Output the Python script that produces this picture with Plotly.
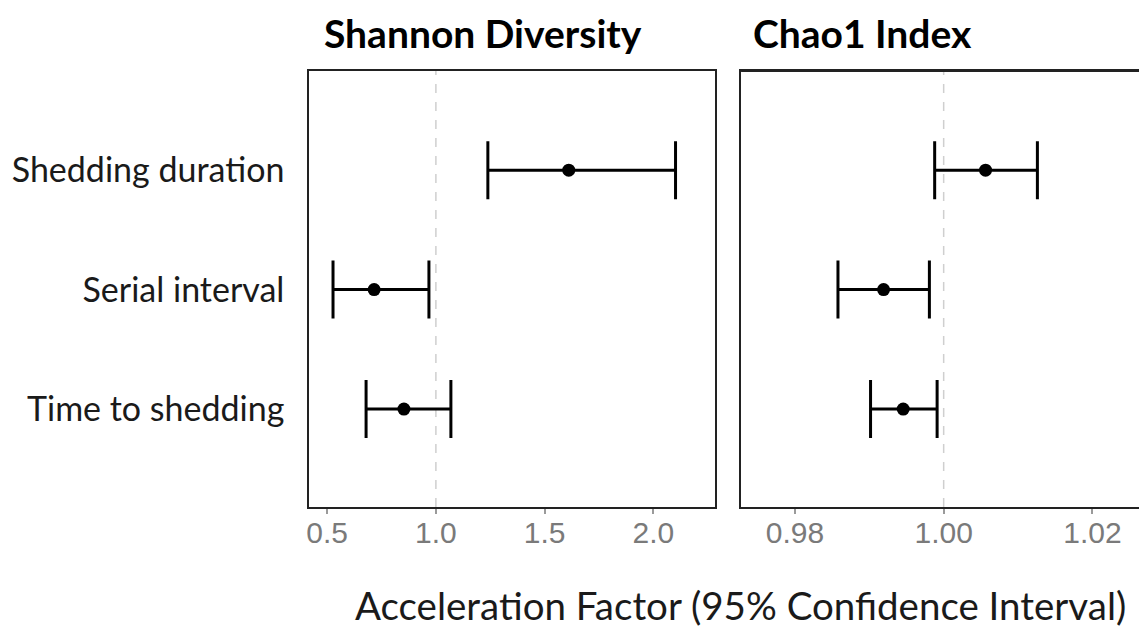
import plotly.graph_objects as go

categories = ["Time to shedding", "Serial interval", "Shedding duration"]
cat_pos = [1, 2, 3]

shannon_est = [0.853, 0.716, 1.611]
shannon_lo = [0.679, 0.527, 1.239]
shannon_hi = [1.069, 0.968, 2.102]

chao_est = [0.99456, 0.99192, 1.00563]
chao_lo = [0.99017, 0.98579, 0.99879]
chao_hi = [0.99912, 0.99808, 1.0126]

x1_ticks = [0.5, 1.0, 1.5, 2.0]
x2_ticks = [0.98, 1.00, 1.02]

W, H = 1139, 627
fig = go.Figure()

def add_series(est, lo, hi, xa, ya):
    fig.add_trace(go.Scatter(
        x=est, y=cat_pos, xaxis=xa, yaxis=ya, mode="markers",
        marker=dict(color="black", size=13),
        error_x=dict(type="data", symmetric=False,
                     array=[h - e for h, e in zip(hi, est)],
                     arrayminus=[e - l for e, l in zip(est, lo)],
                     color="black", thickness=3, width=29),
        showlegend=False, hoverinfo="skip"))

add_series(shannon_est, shannon_lo, shannon_hi, "x", "y")
add_series(chao_est, chao_lo, chao_hi, "x2", "y2")

for xr, yr in (("x", "y"), ("x2", "y2")):
    fig.add_shape(type="line", x0=1, x1=1, y0=0, y1=1, xref=xr, yref=yr + " domain",
                  line=dict(color="#cfcfcf", width=1.5, dash="dash"), layer="below")

ydom = [1 - 507 / H, 1 - 71 / H]
tickfont = dict(family="Liberation Sans, Arial", size=30, color="#7a7a7a")
common_x = dict(showgrid=False, zeroline=False, showline=True, linecolor="#222",
                linewidth=2, mirror=True, ticks="outside", ticklen=5, tickwidth=1.5,
                tickcolor="#9a9a9a", tickfont=tickfont, ticklabelstandoff=-7)
fig.update_layout(
    width=W, height=H, margin=dict(l=0, r=0, t=0, b=0),
    plot_bgcolor="white", paper_bgcolor="white",
    xaxis=dict(domain=[307 / W, 714 / W], range=[0.4174, 2.284],
               tickvals=x1_ticks, ticktext=[f"{v:.1f}" for v in x1_ticks], **common_x),
    xaxis2=dict(domain=[740 / W, 1.0], range=[0.97276, 1.02626], anchor="y2",
                tickvals=x2_ticks, ticktext=[f"{v:.2f}" for v in x2_ticks], **common_x),
    yaxis=dict(domain=ydom, range=[0.18, 3.83], tickvals=cat_pos, ticktext=categories,
               showgrid=False, zeroline=False, showline=True, linecolor="#222",
               linewidth=2, mirror=True, ticks="", ticklabelstandoff=16,
               tickfont=dict(family="Lato", size=34, color="#1a1a1a")),
    yaxis2=dict(domain=ydom, range=[0.18, 3.83], anchor="x2", tickvals=cat_pos,
                showticklabels=False, showgrid=False, zeroline=False, showline=True,
                linecolor="#222", linewidth=2, mirror=False, ticks=""),
)

fig.add_shape(type="line", x0=0, x1=1, y0=1, y1=1, xref="x2 domain", yref="y2 domain",
              line=dict(color="#222", width=2))

title_font = dict(family="Lato", size=39, color="black")
fig.add_annotation(text="<b>Shannon Diversity</b>", x=320 / W, y=1 - 33 / H, xref="paper",
                   yref="paper", xanchor="left", yanchor="middle", showarrow=False, font=title_font)
fig.add_annotation(text="<b>Chao1 Index</b>", x=750 / W, y=1 - 33 / H, xref="paper",
                   yref="paper", xanchor="left", yanchor="middle", showarrow=False, font=title_font)
fig.add_annotation(text="Acceleration Factor (95% Confidence Interval)", x=1128 / W,
                   y=1 - 605 / H, xref="paper", yref="paper", xanchor="right",
                   yanchor="middle", showarrow=False,
                   font=dict(family="Lato", size=38.5, color="#1a1a1a"))

fig.write_html("out.html")
